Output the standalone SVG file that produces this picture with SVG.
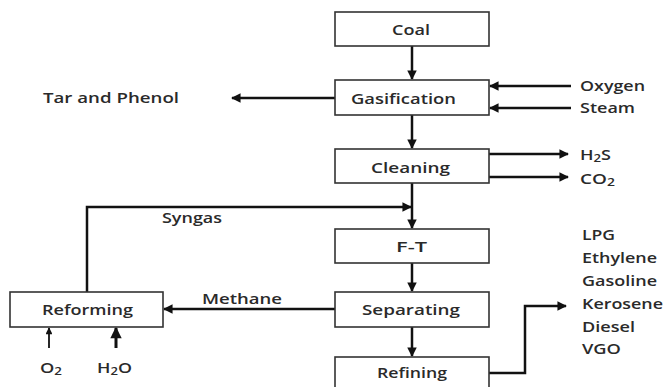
<svg xmlns="http://www.w3.org/2000/svg" width="666" height="387" viewBox="0 0 666 387">
<defs>
<marker id="ah" viewBox="0 0 10 10" refX="9" refY="5" markerWidth="4.4" markerHeight="3.8" orient="auto" markerUnits="strokeWidth">
<path d="M0,0 L10,5 L0,10 z" fill="#111"/>
</marker>
<style>
.box{fill:#fff;stroke:#333;stroke-width:1.6}
.t{font-family:"Open Sans","Liberation Sans",sans-serif;font-size:15px;fill:#2a2a2a;font-weight:600}
.c{stroke:#111;stroke-width:2.5;fill:none}
.a{marker-end:url(#ah)}
.sub{font-size:11px}
</style>
</defs>
<rect width="666" height="387" fill="#fff"/>
<g id="connectors">
<line class="c a" x1="412" y1="46" x2="412" y2="79"/>
<line class="c a" x1="412" y1="115" x2="412" y2="148"/>
<line class="c a" x1="412" y1="183" x2="412" y2="228"/>
<line class="c a" x1="412" y1="263" x2="412" y2="291"/>
<line class="c a" x1="412" y1="327" x2="412" y2="356"/>
<polyline class="c a" points="87,292 87,207 411,207"/>
<line class="c a" x1="335" y1="98" x2="232" y2="98"/>
<line class="c a" x1="571" y1="86" x2="490" y2="86"/>
<line class="c a" x1="571" y1="108" x2="490" y2="108"/>
<line class="c a" x1="489" y1="154" x2="568" y2="154"/>
<line class="c a" x1="489" y1="177" x2="568" y2="177"/>
<line class="c a" x1="335" y1="309" x2="164" y2="309"/>
<polyline class="c a" points="489,373 525,373 525,306 566,306"/>
<line class="c a" x1="49" y1="348" x2="49" y2="328" style="stroke-width:1.8"/>
<line class="c a" x1="116" y1="348" x2="116" y2="328" style="stroke-width:3"/>
</g>
<g id="coal"><rect class="box" x="335" y="12" width="154" height="34"/><text class="t" x="392" y="35" textLength="38" lengthAdjust="spacingAndGlyphs">Coal</text></g>
<g id="gasification"><rect class="box" x="335" y="80" width="154" height="35"/><text class="t" x="351" y="104" textLength="105" lengthAdjust="spacingAndGlyphs">Gasification</text></g>
<g id="cleaning"><rect class="box" x="335" y="149" width="154" height="34"/><text class="t" x="371" y="173" textLength="79" lengthAdjust="spacingAndGlyphs">Cleaning</text></g>
<g id="ft"><rect class="box" x="335" y="229" width="154" height="34"/><text class="t" x="396" y="252" textLength="31" lengthAdjust="spacingAndGlyphs">F-T</text></g>
<g id="separating"><rect class="box" x="335" y="292" width="154" height="35"/><text class="t" x="362" y="315" textLength="98" lengthAdjust="spacingAndGlyphs">Separating</text></g>
<g id="refining"><rect class="box" x="335" y="357" width="154" height="40"/><text class="t" x="377" y="378" textLength="70" lengthAdjust="spacingAndGlyphs">Refining</text></g>
<g id="reforming"><rect class="box" x="10" y="292" width="153" height="35"/><text class="t" x="42" y="315" textLength="91" lengthAdjust="spacingAndGlyphs">Reforming</text></g>
<g id="tar"><text class="t" x="43" y="103" textLength="136" lengthAdjust="spacingAndGlyphs">Tar and Phenol</text></g>
<g id="oxygen"><text class="t" x="580" y="91" textLength="65" lengthAdjust="spacingAndGlyphs">Oxygen</text></g>
<g id="steam"><text class="t" x="580" y="113" textLength="55" lengthAdjust="spacingAndGlyphs">Steam</text></g>
<g id="h2s"><text class="t" x="580" y="160" textLength="31" lengthAdjust="spacingAndGlyphs">H<tspan class="sub" dy="2">2</tspan><tspan dy="-2">S</tspan></text></g>
<g id="co2"><text class="t" x="580" y="184" textLength="35" lengthAdjust="spacingAndGlyphs">CO<tspan class="sub" dy="2">2</tspan></text></g>
<g id="syngas"><text class="t" x="162" y="223" textLength="60" lengthAdjust="spacingAndGlyphs">Syngas</text></g>
<g id="methane"><text class="t" x="202" y="304" textLength="80" lengthAdjust="spacingAndGlyphs">Methane</text></g>
<g id="products">
<text class="t" x="582" y="240" textLength="33" lengthAdjust="spacingAndGlyphs">LPG</text>
<text class="t" x="582" y="263" textLength="75" lengthAdjust="spacingAndGlyphs">Ethylene</text>
<text class="t" x="582" y="286" textLength="75" lengthAdjust="spacingAndGlyphs">Gasoline</text>
<text class="t" x="582" y="309" textLength="81" lengthAdjust="spacingAndGlyphs">Kerosene</text>
<text class="t" x="582" y="332" textLength="53" lengthAdjust="spacingAndGlyphs">Diesel</text>
<text class="t" x="582" y="354" textLength="39" lengthAdjust="spacingAndGlyphs">VGO</text>
</g>
<g id="o2"><text class="t" x="40" y="373" textLength="22" lengthAdjust="spacingAndGlyphs">O<tspan class="sub" dy="2">2</tspan></text></g>
<g id="h2o"><text class="t" x="97" y="373" textLength="35" lengthAdjust="spacingAndGlyphs">H<tspan class="sub" dy="2">2</tspan><tspan dy="-2">O</tspan></text></g>
</svg>
